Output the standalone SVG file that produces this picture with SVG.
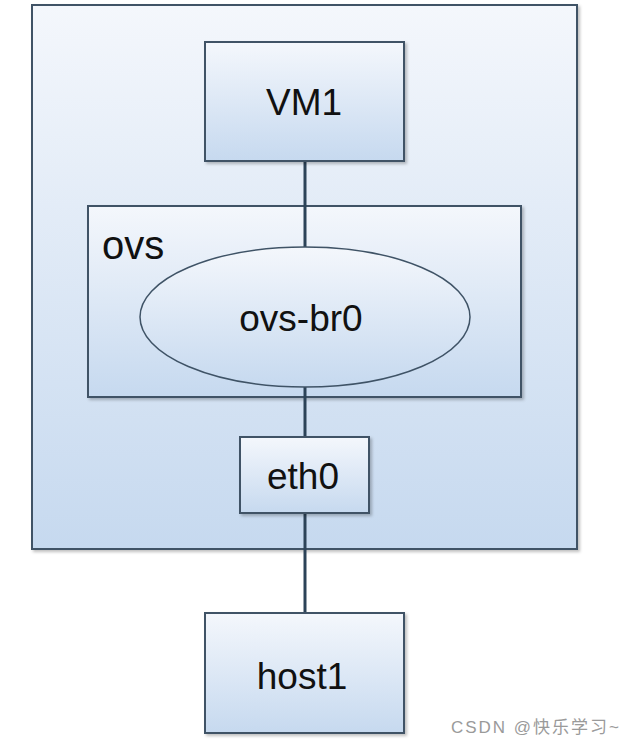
<svg xmlns="http://www.w3.org/2000/svg" width="632" height="746" viewBox="0 0 632 746">
<defs>
<linearGradient id="g" x1="0" y1="0" x2="0" y2="1">
<stop offset="0" stop-color="#f4f7fc"/>
<stop offset="1" stop-color="#c6d9ef"/>
</linearGradient>
<filter id="sh" x="-5%" y="-5%" width="115%" height="115%">
<feDropShadow dx="2" dy="2" stdDeviation="1.5" flood-color="#000" flood-opacity="0.25"/>
</filter>
<style>
.box{fill:url(#g);stroke:#3f5366;stroke-width:2;filter:url(#sh)}
.lbl{font-family:"Liberation Sans",Arial,sans-serif;font-size:37px;fill:#111;text-anchor:middle}
.conn{stroke:#2c4358;stroke-width:3;fill:none}
</style>
</defs>
<rect width="632" height="746" fill="#fff"/>
<g id="host">
<rect class="box" x="32" y="5" width="545" height="544"/>
</g>
<g id="ovs">
<rect class="box" x="88" y="206" width="433" height="191"/>
<text x="102" y="259" font-family="Liberation Sans,Arial,sans-serif" font-size="40" fill="#111">ovs</text>
</g>
<g id="connectors">
<line class="conn" x1="305" y1="161" x2="305" y2="248"/>
<line class="conn" x1="305" y1="386" x2="305" y2="437"/>
<line class="conn" x1="305" y1="513" x2="305" y2="613"/>
</g>
<g id="vm1">
<rect class="box" x="205" y="42" width="199" height="119"/>
<text class="lbl" x="304" y="115">VM1</text>
</g>
<g id="ovs-br0">
<ellipse cx="305" cy="317" rx="165" ry="70" fill="url(#g)" stroke="#3f5366" stroke-width="1.5"/>
<text class="lbl" x="301" y="331">ovs-br0</text>
</g>
<g id="eth0">
<rect class="box" x="240" y="437" width="129" height="76"/>
<text class="lbl" x="303" y="489">eth0</text>
</g>
<g id="host1">
<rect class="box" x="205" y="613" width="199" height="120"/>
<text class="lbl" x="302" y="689">host1</text>
</g>
<text x="451" y="733" font-family="Liberation Sans,Arial,'Noto Sans CJK SC',sans-serif" font-size="17" fill="#9a9a9a" textLength="168" lengthAdjust="spacing">CSDN @快乐学习~</text>
</svg>
